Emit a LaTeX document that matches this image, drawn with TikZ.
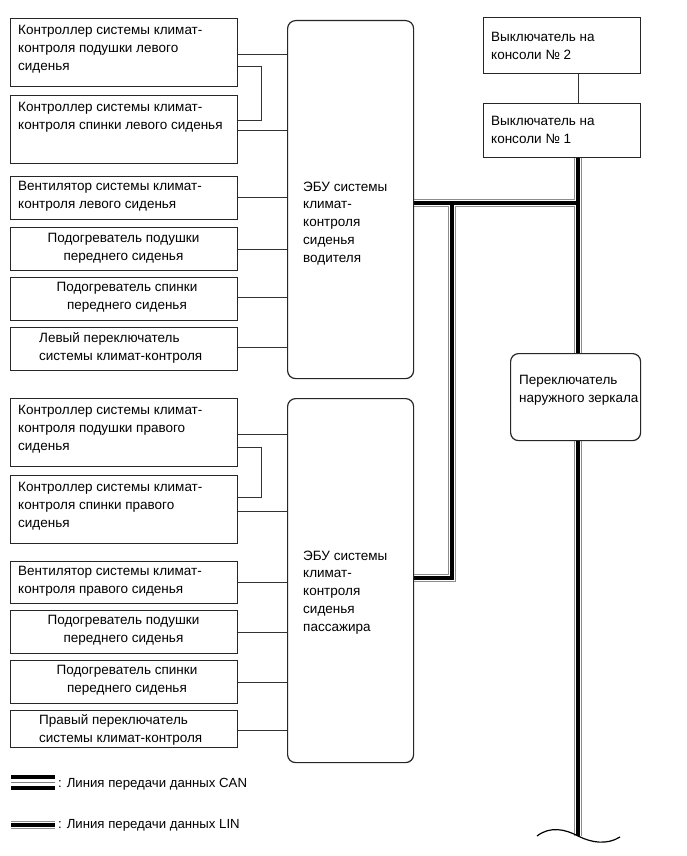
\documentclass[tikz,border=0pt]{standalone}
\usepackage{fontspec}
\setmainfont{Liberation Sans}
\usetikzlibrary{backgrounds,calc}
\pgfdeclarelayer{bus}
\pgfsetlayers{background,bus,main}
\newcommand\fs{\fontsize{13.5}{17.8}\selectfont}
\newcommand\fl{\fontsize{13.2}{15}\selectfont}
\begin{document}
\begin{tikzpicture}[x=1pt,y=-1pt,
  box/.style={draw=black!85, line width=1.2pt, fill=white, anchor=north west, inner sep=0pt, minimum width=227pt},
  rbox/.style={box, rounded corners=8pt},
  lbl/.style={anchor=north west, inner sep=0pt, align=left, font=\fs},
  clbl/.style={anchor=north, inner sep=0pt, align=center, font=\fs},
  wire/.style={line width=0.9pt, draw=black!80},
  busg/.style={line width=8pt, draw=black!45},
  busw/.style={line width=6pt, draw=white},
  busk/.style={line width=3.6pt, draw=black},
]
\begin{pgfonlayer}{background}
\fill[white] (0,0) rectangle (686,856);
\end{pgfonlayer}
\useasboundingbox (0,0) rectangle (686,856);

% left boxes, driver side
\node[box, minimum height=68pt] (b1) at (10,18) {};
\node[box, minimum height=68pt] (b2) at (10,95) {};
\node[box, minimum height=43pt] (b3) at (10,176) {};
\node[box, minimum height=43pt] (b4) at (10,227) {};
\node[box, minimum height=43pt] (b5) at (10,277) {};
\node[box, minimum height=43pt] (b6) at (10,327) {};
% left boxes, passenger side
\node[box, minimum height=68pt] (b7) at (10,398) {};
\node[box, minimum height=68pt] (b8) at (10,475) {};
\node[box, minimum height=42pt] (b9) at (10,561) {};
\node[box, minimum height=43pt] (b10) at (10,610) {};
\node[box, minimum height=43pt] (b11) at (10,660) {};
\node[box, minimum height=37pt] (b12) at (10,710) {};
% ECUs
\node[rbox, minimum width=126pt, minimum height=358pt] (ecuA) at (287,20) {};
\node[rbox, minimum width=126pt, minimum height=364pt] (ecuB) at (287,398) {};
% right side
\node[box, minimum width=157pt, minimum height=56pt] (sw2) at (483,17) {};
\node[box, minimum width=157pt, minimum height=54pt] (sw1) at (483,103) {};
\node[rbox, minimum width=130pt, minimum height=87pt] (mir) at (510,353) {};

% texts
\node[lbl] (t1) at (18,25.5) {Контроллер системы климат-\\контроля подушки левого\\сиденья};
\node[lbl] (t2) at (18,102.5) {Контроллер системы климат-\\контроля спинки левого сиденья};
\node[lbl] (t3) at (18,181.5) {Вентилятор системы климат-\\контроля левого сиденья};
\node[clbl] (t4) at (123.5,233.5) {Подогреватель подушки\\переднего сиденья};
\node[clbl] (t5) at (127,282.5) {Подогреватель спинки\\переднего сиденья};
\node[lbl] (t6) at (39,332.5) {Левый переключатель\\системы климат-контроля};
\node[lbl] (tA) at (303,181.5) {ЭБУ системы\\климат-\\контроля\\сиденья\\водителя};

\node[lbl] (t7) at (18,405.5) {Контроллер системы климат-\\контроля подушки правого\\сиденья};
\node[lbl] (t8) at (18,482.5) {Контроллер системы климат-\\контроля спинки правого\\сиденья};
\node[lbl] (t9) at (18,566.5) {Вентилятор системы климат-\\контроля правого сиденья};
\node[clbl] (t10) at (123.5,615.5) {Подогреватель подушки\\переднего сиденья};
\node[clbl] (t11) at (127,665.5) {Подогреватель спинки\\переднего сиденья};
\node[lbl] (t12) at (39,714.5) {Правый переключатель\\системы климат-контроля};
\node[lbl] (tB) at (303,550.5) {ЭБУ системы\\климат-\\контроля\\сиденья\\пассажира};

\node[lbl] (ts2) at (491,32.5) {Выключатель на\\консоли № 2};
\node[lbl] (ts1) at (491,116.5) {Выключатель на\\консоли № 1};
\node[lbl] (tm) at (519,375.5) {Переключатель\\наружного зеркала};

% wires driver side
\draw[wire] (b1.east |- 0,54) -- (ecuA.west |- 0,54);
\draw[wire] (b1.east |- 0,66) -- (261,66) -- (261,120) -- (b2.east |- 0,120);
\draw[wire] (b2.east |- 0,130) -- (ecuA.west |- 0,130);
\draw[wire] (b3.east |- 0,197) -- (ecuA.west |- 0,197);
\draw[wire] (b4.east |- 0,249) -- (ecuA.west |- 0,249);
\draw[wire] (b5.east |- 0,297) -- (ecuA.west |- 0,297);
\draw[wire] (b6.east |- 0,347) -- (ecuA.west |- 0,347);
% wires passenger side
\draw[wire] (b7.east |- 0,434) -- (ecuB.west |- 0,434);
\draw[wire] (b7.east |- 0,447) -- (261,447) -- (261,497) -- (b8.east |- 0,497);
\draw[wire] (b8.east |- 0,511) -- (ecuB.west |- 0,511);
\draw[wire] (b9.east |- 0,582) -- (ecuB.west |- 0,582);
\draw[wire] (b10.east |- 0,632) -- (ecuB.west |- 0,632);
\draw[wire] (b11.east |- 0,682) -- (ecuB.west |- 0,682);
\draw[wire] (b12.east |- 0,730) -- (ecuB.west |- 0,730);
% switch link
\draw[wire] (578,0 |- sw2.south) -- (578,0 |- sw1.north);

% bus
\coordinate (j1) at (452,203);
\coordinate (j2) at (578,203);
\coordinate (j3) at (452,578);
\coordinate (busend) at (578,836);
\begin{pgfonlayer}{bus}
\foreach \st in {busg,busw,busk}{
  \draw[\st] (578,0 |- sw1.south) -- (busend);
  \draw[\st] (ecuA.east |- j1) -- (j2);
  \draw[\st, line join=miter] (j1) -- (j3) -- (ecuB.east |- j3);
}
\end{pgfonlayer}
% break mark
\coordinate (brA) at (537,836);
\coordinate (brB) at (620,837);
\draw[line width=1.2pt] (brA) .. controls (550,826) and (565,829) .. (busend) .. controls (592,843) and (607,845) .. (brB);

% legend
\draw[line width=4pt] (11,777) -- (55,777);
\draw[line width=1pt, black!50] (11,782.5) -- (55,782.5);
\draw[line width=4pt] (11,788) -- (55,788);
\node[anchor=west, inner sep=0pt, font=\fl] (lgCAN) at (58,784) {: Линия передачи данных CAN};
\foreach \st in {busg,busw,busk}{\draw[\st] (11,825) -- (55,825);}
\node[anchor=west, inner sep=0pt, font=\fl] (lgLIN) at (58,825) {: Линия передачи данных LIN};
\end{tikzpicture}
\end{document}
